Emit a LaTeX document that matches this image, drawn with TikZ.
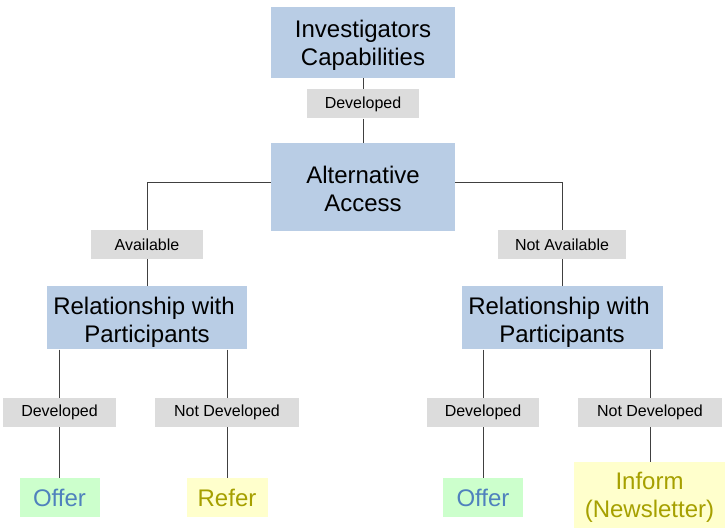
\documentclass[tikz,border=0pt]{standalone}
\usepackage{fontspec}
\setmainfont{Liberation Sans}
\usetikzlibrary{positioning}
\definecolor{boxblue}{HTML}{B9CDE5}
\definecolor{tagfill}{HTML}{DCDCDC}
\definecolor{offerfill}{HTML}{CCFFCC}
\definecolor{offertext}{HTML}{4F81BD}
\definecolor{referfill}{HTML}{FFFFCC}
\definecolor{refertext}{HTML}{A6A000}
\definecolor{wire}{HTML}{404040}
% strut that balances the descender of the last line
\newcommand{\capstrut}[1]{\rule{0pt}{#1}}

\begin{document}
\begin{tikzpicture}[
        x=1pt, y=-1pt,
        decision/.style={rectangle, fill=boxblue, inner sep=0pt, align=center, font=\fontsize{24}{28}\selectfont},
        tag/.style={rectangle, fill=tagfill, inner sep=0pt, minimum height=29pt, font=\fontsize{16}{19}\selectfont},
        offerbox/.style={rectangle, fill=offerfill, text=offertext, inner sep=0pt, minimum width=80pt, minimum height=39pt, font=\fontsize{24}{28}\selectfont},
        referbox/.style={rectangle, fill=referfill, text=refertext, inner sep=0pt, align=center, font=\fontsize{24}{28}\selectfont},
        link/.style={draw=wire, line width=1pt}
    ]
        \useasboundingbox (0,0) rectangle (725,529);

        % top of the tree
        \node[decision, minimum width=184pt, minimum height=71pt] (inv) at (363,42.5) {\capstrut{22.5pt}Investigators\\Capabilities};
        \node[tag, minimum width=112pt, below=11pt of inv] (devtop) {Developed};
        \node[decision, minimum width=184pt, minimum height=88pt, below=24pt of devtop] (alt) {\capstrut{21pt}Alternative\\Access};

        \node[tag, minimum width=112pt] (avail) at (147,244.5) {Available};
        \node[tag, minimum width=128pt] (notavail) at (562,244.5) {Not Available};

        \node[decision, minimum width=200pt, minimum height=63pt, below=27pt of avail] (relleft) {\capstrut{26pt}Relationship with\kern6pt\\Participants};
        \node[decision, minimum width=201pt, minimum height=63pt, below=27pt of notavail] (relright) {\capstrut{26pt}Relationship with\kern6pt\\Participants};

        % left branch
        \node[tag, minimum width=113pt] (devleft) at (59.5,412.5) {Developed};
        \node[tag, minimum width=144pt] (notdevleft) at (227,412.5) {Not Developed};
        \node[offerbox, below=51pt of devleft] (offerleft) {Offer};
        \node[referbox, minimum width=81pt, minimum height=39pt, below=51pt of notdevleft] (refer) {Refer};

        % right branch
        \node[tag, minimum width=112pt] (devright) at (483,412.5) {Developed};
        \node[tag, minimum width=144pt] (notdevright) at (650,412.5) {Not Developed};
        \node[offerbox, below=51pt of devright] (offerright) {Offer};
        \node[referbox, minimum width=151pt, minimum height=66pt] (inform) at (649.5,495) {\capstrut{22.5pt}Inform\\(Newsletter)};

        \draw[link] (inv) -- (devtop);
        \draw[link] (devtop) -- (alt);
        \draw[link] ([yshift=4pt]alt.west) -| (avail.north);
        \draw[link] ([yshift=4pt]alt.east) -| (notavail.north);
        \draw[link] (avail) -- (relleft);
        \draw[link] (notavail) -- (relright);

        \draw[link] (relleft.south -| devleft) -- (devleft);
        \draw[link] (relleft.south -| notdevleft) -- (notdevleft);
        \draw[link] (devleft) -- (offerleft);
        \draw[link] (notdevleft) -- (refer);

        \draw[link] (relright.south -| devright) -- (devright);
        \draw[link] (relright.south -| notdevright) -- (notdevright);
        \draw[link] (devright) -- (offerright);
        \draw[link] (notdevright) -- (inform.north -| notdevright);
    \end{tikzpicture}
\end{document}
